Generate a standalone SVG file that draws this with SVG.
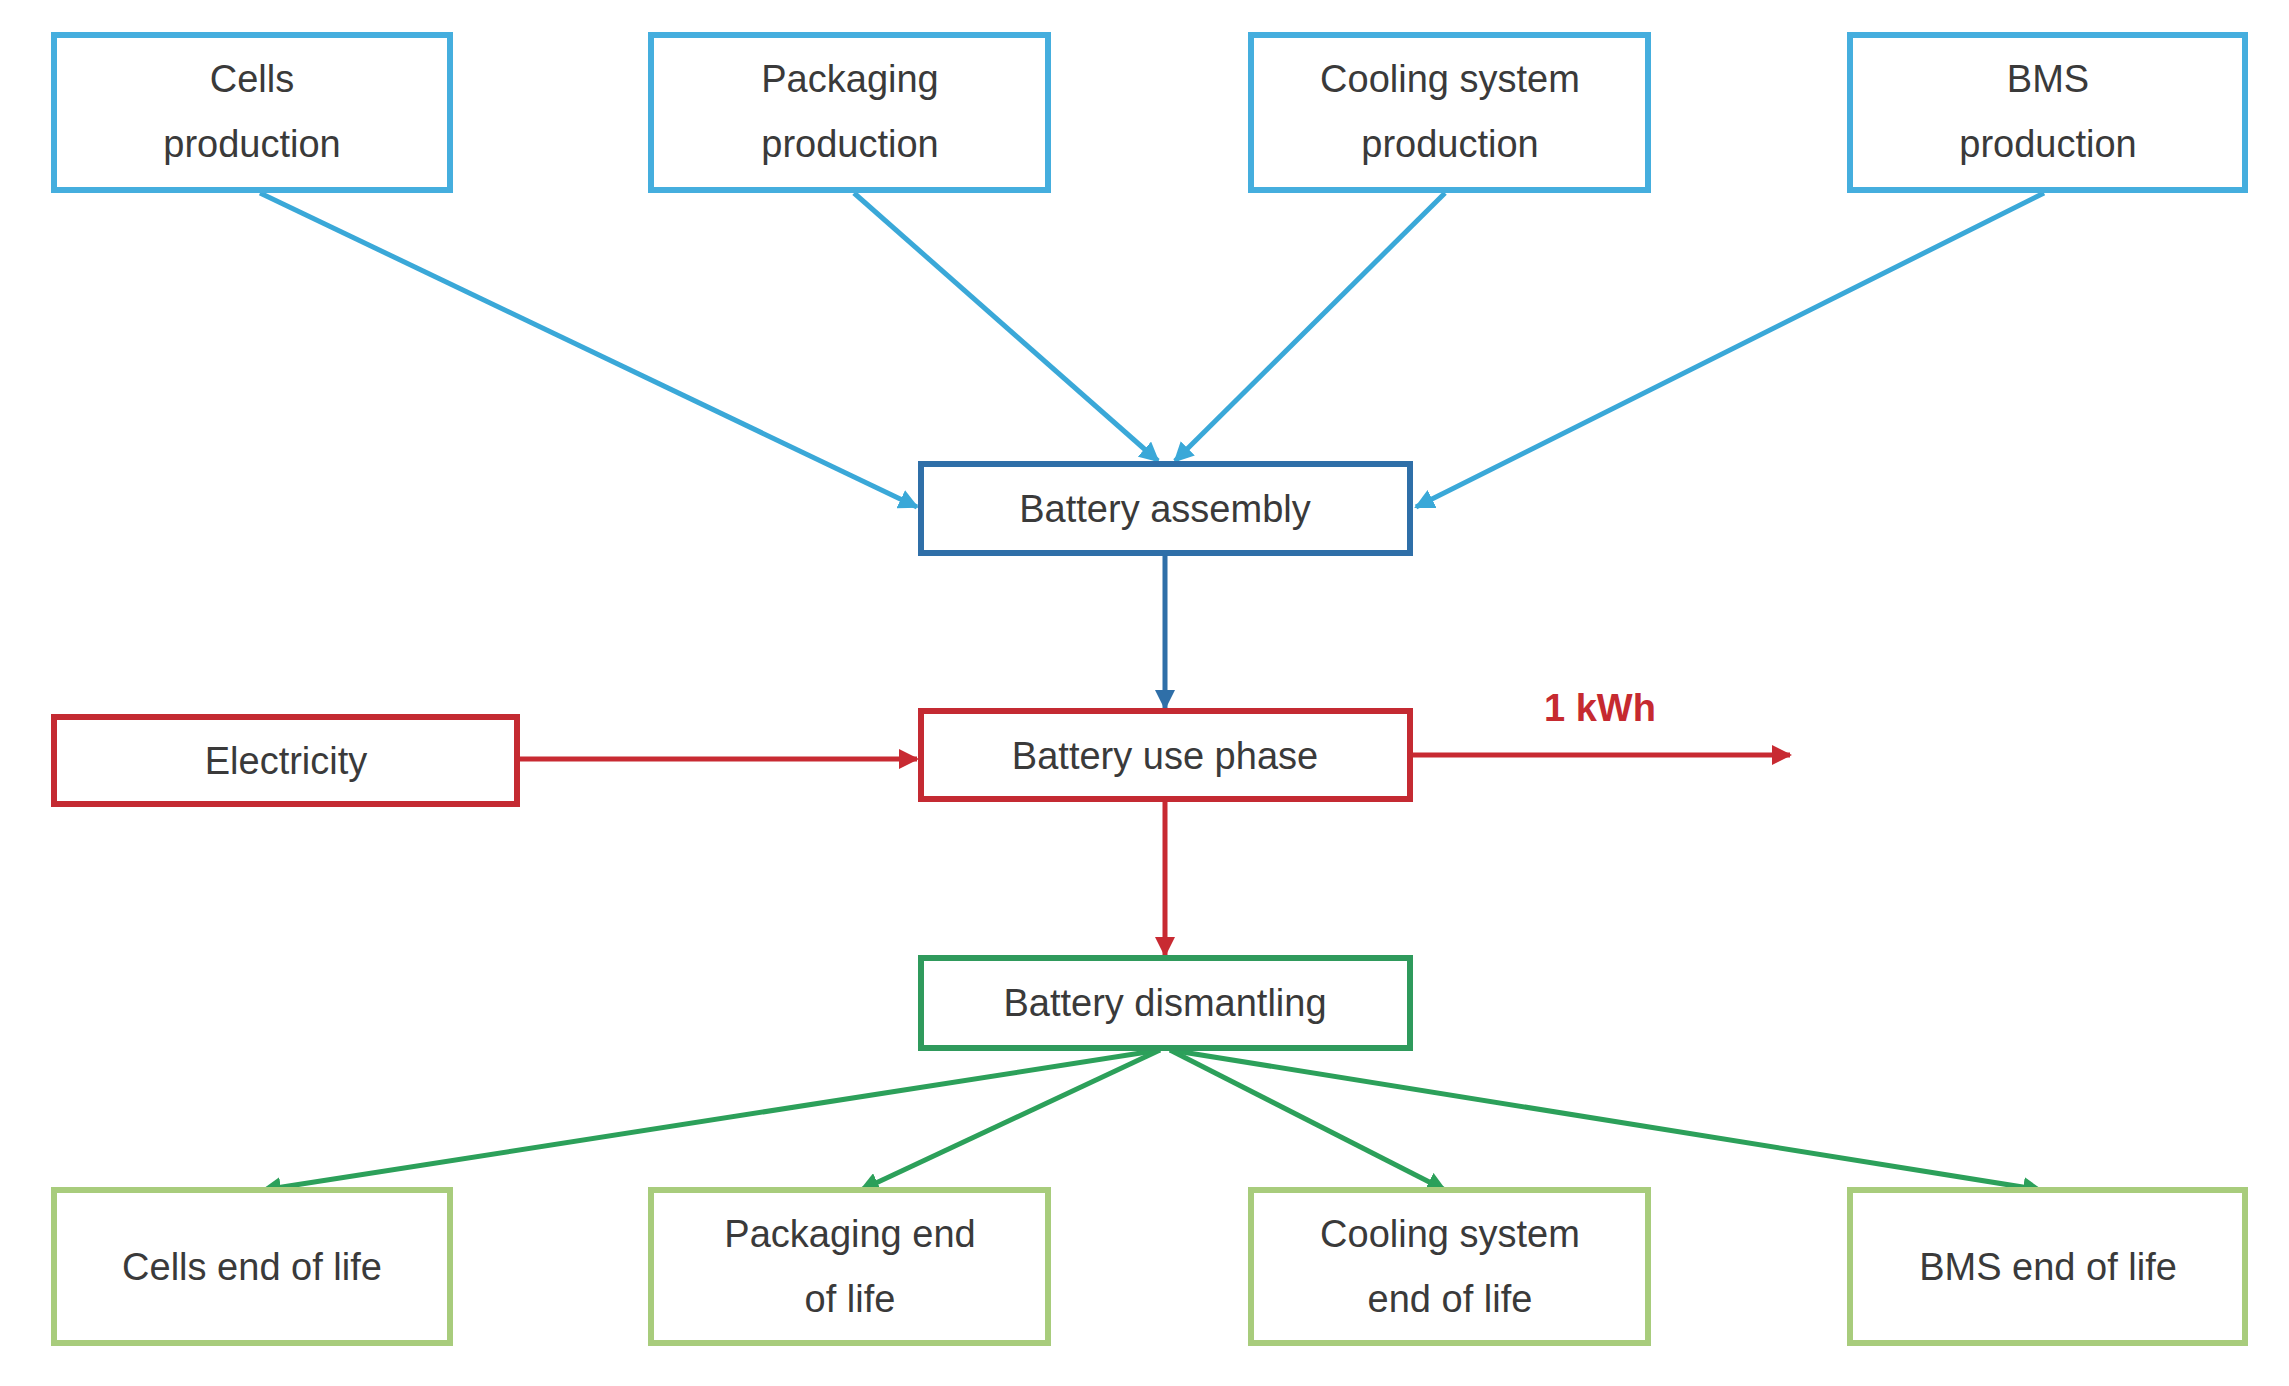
<svg xmlns="http://www.w3.org/2000/svg" width="2289" height="1386" viewBox="0 0 2289 1386">
<style>
text{font-family:"Liberation Sans",Arial,sans-serif;font-size:38px;fill:#3a3a3a;text-anchor:middle}
.b{fill:#fff;stroke:#45aede;stroke-width:6}
.db{fill:#fff;stroke:#2f6fa8;stroke-width:6}
.r{fill:#fff;stroke:#c42a32;stroke-width:6}
.dg{fill:#fff;stroke:#2f9a5c;stroke-width:6}
.lg{fill:#fff;stroke:#a8cc7c;stroke-width:6}
.cb{stroke:#3aa8d8;stroke-width:5;fill:none}
.cr{stroke:#c82a32;stroke-width:5;fill:none}
.cg{stroke:#2ca05a;stroke-width:5;fill:none}
</style>
<defs>
<marker id="ab" viewBox="0 0 10 10" refX="9" refY="5" markerWidth="4" markerHeight="4" orient="auto"><path d="M0,0L10,5L0,10z" fill="#3aa8d8"/></marker>
<marker id="ad" viewBox="0 0 10 10" refX="9" refY="5" markerWidth="4" markerHeight="4" orient="auto"><path d="M0,0L10,5L0,10z" fill="#2f6fa8"/></marker>
<marker id="ar" viewBox="0 0 10 10" refX="9" refY="5" markerWidth="4" markerHeight="4" orient="auto"><path d="M0,0L10,5L0,10z" fill="#c82a32"/></marker>
<marker id="ag" viewBox="0 0 10 10" refX="9" refY="5" markerWidth="4" markerHeight="4" orient="auto"><path d="M0,0L10,5L0,10z" fill="#2ca05a"/></marker>
</defs>
<rect width="2289" height="1386" fill="#fff"/>
<g id="connectors">
<line class="cb" x1="260" y1="193" x2="917" y2="507" marker-end="url(#ab)"/>
<line class="cb" x1="854" y1="193" x2="1158" y2="461" marker-end="url(#ab)"/>
<line class="cb" x1="1445" y1="193" x2="1175" y2="461" marker-end="url(#ab)"/>
<line class="cb" x1="2044" y1="193" x2="1416" y2="507" marker-end="url(#ab)"/>
<line x1="1165" y1="553" x2="1165" y2="708" stroke="#2f6fa8" stroke-width="5" marker-end="url(#ad)"/>
<line class="cr" x1="517" y1="759" x2="917" y2="759" marker-end="url(#ar)"/>
<line class="cr" x1="1410" y1="755" x2="1790" y2="755" marker-end="url(#ar)"/>
<line class="cr" x1="1165" y1="799" x2="1165" y2="955" marker-end="url(#ar)"/>
<line class="cg" x1="1160" y1="1050" x2="263" y2="1190" marker-end="url(#ag)"/>
<line class="cg" x1="1160" y1="1050" x2="861" y2="1190" marker-end="url(#ag)"/>
<line class="cg" x1="1170" y1="1050" x2="1445" y2="1190" marker-end="url(#ag)"/>
<line class="cg" x1="1170" y1="1050" x2="2041" y2="1190" marker-end="url(#ag)"/>
<text x="1600" y="721" style="fill:#c62a30;font-weight:bold">1 kWh</text>
</g>
<g id="cells"><rect class="b" x="54" y="35" width="396" height="155"/><text x="252" y="92">Cells</text><text x="252" y="157">production</text></g>
<g id="packaging"><rect class="b" x="651" y="35" width="397" height="155"/><text x="850" y="92">Packaging</text><text x="850" y="157">production</text></g>
<g id="cooling"><rect class="b" x="1251" y="35" width="397" height="155"/><text x="1450" y="92">Cooling system</text><text x="1450" y="157">production</text></g>
<g id="bms"><rect class="b" x="1850" y="35" width="395" height="155"/><text x="2048" y="92">BMS</text><text x="2048" y="157">production</text></g>
<g id="assembly"><rect class="db" x="921" y="464" width="489" height="89"/><text x="1165" y="522">Battery assembly</text></g>
<g id="electricity"><rect class="r" x="54" y="717" width="463" height="87"/><text x="286" y="774">Electricity</text></g>
<g id="use"><rect class="r" x="921" y="711" width="489" height="88"/><text x="1165" y="769">Battery use phase</text></g>
<g id="dismantling"><rect class="dg" x="921" y="958" width="489" height="90"/><text x="1165" y="1016">Battery dismantling</text></g>
<g id="cellseol"><rect class="lg" x="54" y="1190" width="396" height="153"/><text x="252" y="1280">Cells end of life</text></g>
<g id="packeol"><rect class="lg" x="651" y="1190" width="397" height="153"/><text x="850" y="1247">Packaging end</text><text x="850" y="1312">of life</text></g>
<g id="cooleol"><rect class="lg" x="1251" y="1190" width="397" height="153"/><text x="1450" y="1247">Cooling system</text><text x="1450" y="1312">end of life</text></g>
<g id="bmseol"><rect class="lg" x="1850" y="1190" width="395" height="153"/><text x="2048" y="1280">BMS end of life</text></g>
</svg>
